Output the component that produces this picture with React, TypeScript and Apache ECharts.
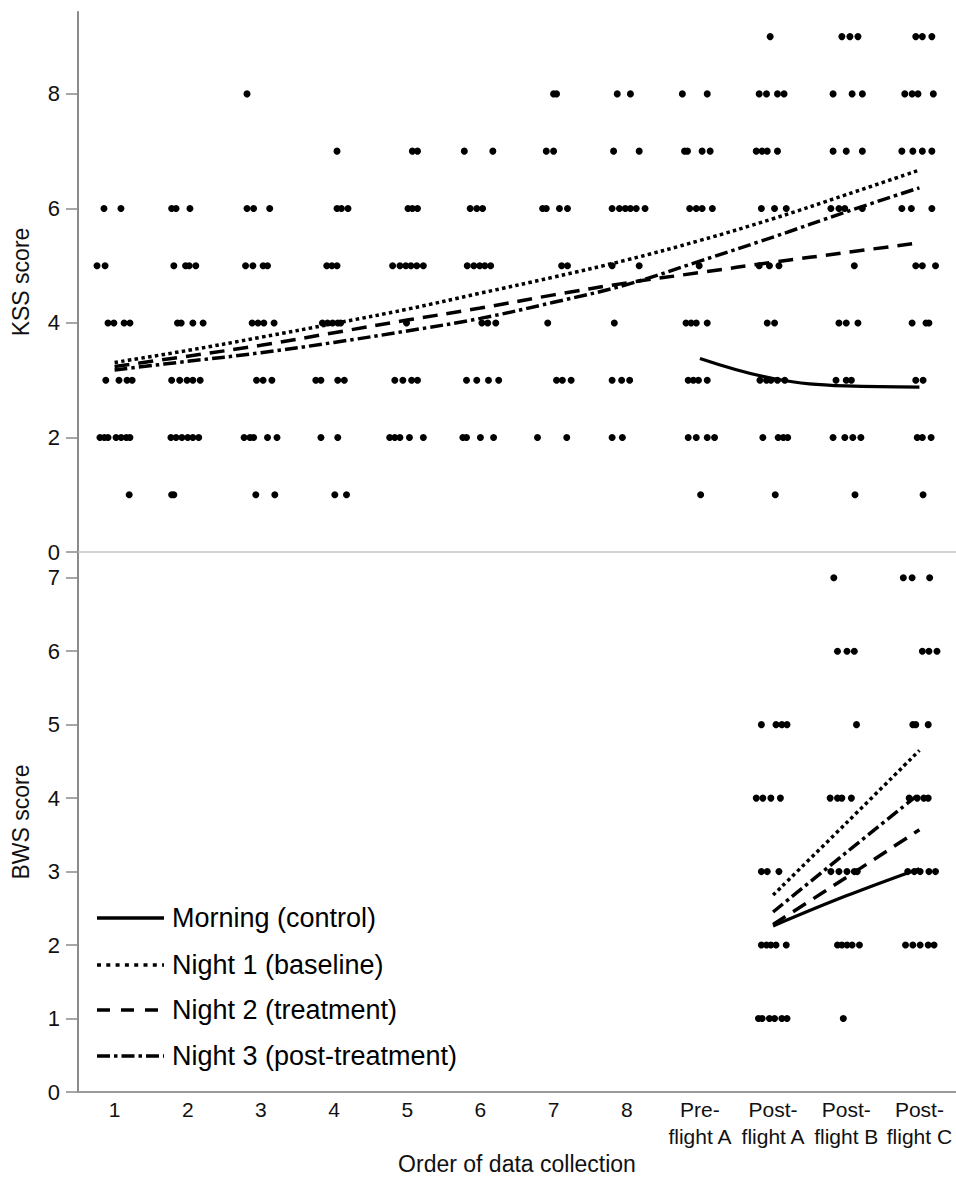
import React, { useEffect, useRef } from "react";
import * as echarts from "echarts";

const categories = [
  "1", "2", "3", "4", "5", "6", "7", "8",
  "Pre-\nflight A", "Post-\nflight A", "Post-\nflight B", "Post-\nflight C",
];
const kssTicks = [0, 2, 4, 6, 8];
const kssMinorTicks = [1, 3, 5, 7, 9];
const bwsTicks = [0, 1, 2, 3, 4, 5, 6, 7];
const bwsMinorTicks = [0.5, 1.5, 2.5, 3.5, 4.5, 5.5, 6.5];

// KSS individual responses: [score, jittered x positions (category units)]
const kssPoints: [number, number[]][] = [
  [9, [9.96, 10.94, 11.05, 11.16, 11.95, 12.04, 12.17]],
  [8, [2.81, 7.0, 7.04, 7.87, 8.05, 8.76, 9.1, 9.81, 9.91, 10.06, 10.15, 10.82, 11.08, 11.22, 11.8, 11.9, 11.98, 12.19]],
  [7, [4.04, 5.07, 5.14, 5.78, 6.17, 6.9, 7.0, 7.82, 8.17, 8.79, 8.83, 9.03, 9.14, 9.77, 9.85, 9.92, 10.06, 10.82, 11.0, 11.22, 11.76, 11.91, 12.04, 12.17]],
  [6, [0.855, 1.087, 1.78, 1.84, 2.03, 2.81, 2.9, 3.12, 4.04, 4.1, 4.19, 5.01, 5.07, 5.14, 5.86, 5.95, 6.03, 6.85, 6.9, 7.08, 7.19, 7.8, 7.9, 7.98, 8.05, 8.13, 8.25, 8.86, 8.95, 9.03, 9.17, 9.84, 10.02, 10.18, 10.79, 10.9, 10.98, 11.22, 11.76, 11.89, 12.17]],
  [5, [0.76, 0.87, 1.81, 1.97, 2.02, 2.11, 2.79, 2.89, 3.03, 3.09, 3.9, 3.97, 4.04, 4.8, 4.9, 4.98, 5.05, 5.13, 5.22, 5.82, 5.91, 5.99, 6.06, 6.14, 7.11, 7.19, 7.8, 8.17, 8.99, 9.81, 9.95, 10.08, 11.11, 11.95, 12.04, 12.22]],
  [4, [0.91, 0.99, 1.13, 1.21, 1.86, 1.91, 2.07, 2.21, 2.88, 2.96, 3.04, 3.18, 3.84, 3.91, 3.98, 4.05, 4.09, 4.99, 6.02, 6.1, 6.21, 6.92, 7.83, 8.81, 8.88, 8.95, 9.1, 9.92, 10.02, 10.9, 11.0, 11.16, 11.9, 12.09, 12.13]],
  [3, [0.88, 1.06, 1.17, 1.24, 1.78, 1.89, 1.99, 2.07, 2.17, 2.94, 3.03, 3.15, 3.75, 3.82, 4.05, 4.14, 4.83, 4.94, 5.06, 5.14, 5.81, 5.95, 6.11, 6.25, 7.04, 7.12, 7.24, 7.8, 7.93, 8.04, 8.84, 8.91, 8.98, 9.1, 9.82, 9.91, 9.97, 10.06, 10.16, 10.86, 11.0, 11.07, 11.95, 12.05]],
  [2, [0.8, 0.86, 0.91, 1.02, 1.09, 1.16, 1.21, 1.77, 1.84, 1.92, 2.0, 2.07, 2.15, 2.77, 2.85, 2.9, 3.09, 3.22, 3.82, 4.05, 4.76, 4.83, 4.9, 5.03, 5.22, 5.76, 5.81, 6.0, 6.18, 6.78, 7.18, 7.8, 7.94, 8.84, 8.95, 9.1, 9.2, 9.86, 10.07, 10.14, 10.2, 10.82, 10.98, 11.09, 11.2, 11.97, 12.04, 12.16]],
  [1, [1.2, 1.78, 1.81, 2.93, 3.19, 4.01, 4.17, 9.01, 10.03, 11.12, 12.05]],
];

// BWS individual responses: [score, jittered x positions]
const bwsPoints: [number, number[]][] = [
  [7, [10.83, 11.78, 11.9, 12.14]],
  [6, [10.88, 11.01, 11.11, 12.04, 12.13, 12.24]],
  [5, [9.84, 10.04, 10.12, 10.19, 11.14, 11.91, 11.95, 12.12]],
  [4, [9.77, 9.86, 9.97, 10.1, 10.78, 10.88, 10.94, 11.07, 11.86, 11.97, 12.06, 12.12]],
  [3, [9.84, 9.92, 10.08, 10.79, 10.9, 11.01, 11.11, 11.15, 11.84, 11.93, 12.01, 12.13, 12.22]],
  [2, [9.84, 9.91, 9.97, 10.04, 10.18, 10.88, 10.94, 11.01, 11.08, 11.18, 11.81, 11.91, 12.01, 12.12, 12.2]],
  [1, [9.8, 9.85, 9.95, 10.02, 10.12, 10.19, 10.96]],
];

// Fitted model curves, one value per category (null = not fitted)
const kssMorning = [null, null, null, null, null, null, null, null, 3.38, 3.03, 2.9, 2.88];
const kssNight1 = [3.31, 3.52, 3.75, 3.99, 4.24, 4.52, 4.8, 5.1, 5.44, 5.82, 6.24, 6.67];
const kssNight2 = [3.24, 3.42, 3.61, 3.83, 4.05, 4.26, 4.49, 4.7, 4.88, 5.06, 5.23, 5.4];
const kssNight3 = [3.18, 3.33, 3.48, 3.66, 3.86, 4.08, 4.36, 4.67, 5.08, 5.5, 5.94, 6.36];

const bwsMorning = [null, null, null, null, null, null, null, null, null, 2.26, 2.67, 3.04];
const bwsNight1 = [null, null, null, null, null, null, null, null, null, 2.68, 3.66, 4.65];
const bwsNight2 = [null, null, null, null, null, null, null, null, null, 2.28, 2.92, 3.57];
const bwsNight3 = [null, null, null, null, null, null, null, null, null, 2.45, 3.26, 4.06];

const groupNames = [
  "Morning (control)",
  "Night 1 (baseline)",
  "Night 2 (treatment)",
  "Night 3 (post-treatment)",
];

const FONT = "'Liberation Sans', Arial, Helvetica, sans-serif";
const TEXT = "#111";
const AXIS = "#8a8a8a";

const lineDashes: (number[] | null)[] = [null, [3.5, 3.3], [15, 9], [13, 4, 3.5, 4]];
const legendDashes: (number[] | null)[] = [null, [4, 5.3], [13, 11], [13, 4, 3.5, 4]];

function toXY(values: (number | null)[]) {
  const out: number[][] = [];
  values.forEach((v, i) => {
    if (v !== null) out.push([i + 1, v]);
  });
  return out;
}

function flatten(points: [number, number[]][]) {
  const out: number[][] = [];
  points.forEach(([s, xs]) => xs.forEach((x) => out.push([x, s])));
  return out;
}

export default function App() {
  const ref = useRef<HTMLDivElement>(null);

  useEffect(() => {
    document.body.style.margin = "0";
    if (!ref.current) return;
    const chart = echarts.init(ref.current, undefined, { renderer: "svg" });

    const lineSeries = (name: string, data: (number | null)[], idx: number, panel: number) => ({
      type: "line",
      name,
      xAxisIndex: panel,
      yAxisIndex: panel === 0 ? 0 : 2,
      data: toXY(data),
      smooth: 0.4,
      showSymbol: false,
      symbol: "none",
      z: 5,
      lineStyle: {
        color: "#000",
        width: idx === 0 ? 3.2 : 3.5,
        type: lineDashes[idx] === null ? "solid" : lineDashes[idx],
        cap: "butt",
      },
    });

    const yBase = (panelMax: number, ticks: number[], name: string, grid: number) => ({
      gridIndex: grid,
      type: "value",
      min: 0,
      max: panelMax,
      name,
      nameLocation: "middle",
      nameGap: 46,
      nameRotate: 90,
      nameTextStyle: { fontSize: 23, color: TEXT, fontFamily: FONT },
      axisLine: { show: true, onZero: false, lineStyle: { color: AXIS, width: 2 } },
      axisTick: { show: true, customValues: ticks, length: 12, lineStyle: { color: AXIS, width: 1.5 } },
      axisLabel: { customValues: ticks, fontSize: 22, margin: 18, color: TEXT, fontFamily: FONT },
      splitLine: { show: false },
    });

    const yMinor = (panelMax: number, ticks: number[], grid: number) => ({
      gridIndex: grid,
      type: "value",
      min: 0,
      max: panelMax,
      axisLine: { show: false, onZero: false },
      axisTick: { show: true, customValues: ticks, length: 6, lineStyle: { color: AXIS, width: 1.5 } },
      axisLabel: { show: false },
      splitLine: { show: false },
    });

    const legendRowsY = [918, 965, 1010, 1056];
    const graphic: any[] = [];
    groupNames.forEach((n, i) => {
      graphic.push({
        type: "line",
        shape: { x1: 97, y1: legendRowsY[i], x2: 164, y2: legendRowsY[i] },
        style: {
          stroke: "#000",
          lineWidth: 3.5,
          lineDash: legendDashes[i] === null ? undefined : legendDashes[i],
        },
      });
      graphic.push({
        type: "text",
        x: 172,
        y: legendRowsY[i],
        style: {
          text: n,
          fontSize: 27,
          fontFamily: FONT,
          fill: "#000",
          verticalAlign: "middle",
          textVerticalAlign: "middle",
        },
      });
    });

    const option: any = {
      animation: false,
      backgroundColor: "#fff",
      grid: [
        { left: 78, right: 0, top: 12, height: 540 },
        { left: 78, right: 0, top: 552, height: 540 },
      ],
      xAxis: [
        {
          gridIndex: 0,
          type: "value",
          min: 0.5,
          max: 12.5,
          axisLine: { show: true, onZero: false, lineStyle: { color: "#c4c4c4", width: 1.5 } },
          axisTick: { show: false },
          axisLabel: { show: false },
          splitLine: { show: false },
        },
        {
          gridIndex: 1,
          type: "value",
          min: 0.5,
          max: 12.5,
          name: "Order of data collection",
          nameLocation: "middle",
          nameGap: 60,
          nameTextStyle: { fontSize: 23, color: TEXT, fontFamily: FONT },
          axisLine: { show: true, onZero: false, lineStyle: { color: "#9a9a9a", width: 2 } },
          axisTick: { show: false },
          axisLabel: {
            customValues: categories.map((_, i) => i + 1),
            formatter: (v: number) => categories[Math.round(v) - 1],
            fontSize: 21,
            lineHeight: 27,
            margin: 4,
            color: TEXT,
            fontFamily: FONT,
          },
          splitLine: { show: false },
        },
      ],
      yAxis: [
        yBase(9.43, kssTicks, "KSS score", 0),
        yMinor(9.43, kssMinorTicks, 0),
        yBase(7.35, bwsTicks, "BWS score", 1),
        yMinor(7.35, bwsMinorTicks, 1),
      ],
      series: [
        {
          type: "scatter",
          xAxisIndex: 0,
          yAxisIndex: 0,
          data: flatten(kssPoints),
          symbolSize: 7,
          itemStyle: { color: "#000", opacity: 1 },
          z: 2,
        },
        {
          type: "scatter",
          xAxisIndex: 1,
          yAxisIndex: 2,
          data: flatten(bwsPoints),
          symbolSize: 7,
          itemStyle: { color: "#000", opacity: 1 },
          z: 2,
        },
        lineSeries(groupNames[0], kssMorning, 0, 0),
        lineSeries(groupNames[1], kssNight1, 1, 0),
        lineSeries(groupNames[2], kssNight2, 2, 0),
        lineSeries(groupNames[3], kssNight3, 3, 0),
        lineSeries(groupNames[0], bwsMorning, 0, 1),
        lineSeries(groupNames[1], bwsNight1, 1, 1),
        lineSeries(groupNames[2], bwsNight2, 2, 1),
        lineSeries(groupNames[3], bwsNight3, 3, 1),
      ],
      graphic,
    };

    chart.setOption(option);
    return () => chart.dispose();
  }, []);

  return <div ref={ref} style={{ width: 956, height: 1177 }} />;
}
